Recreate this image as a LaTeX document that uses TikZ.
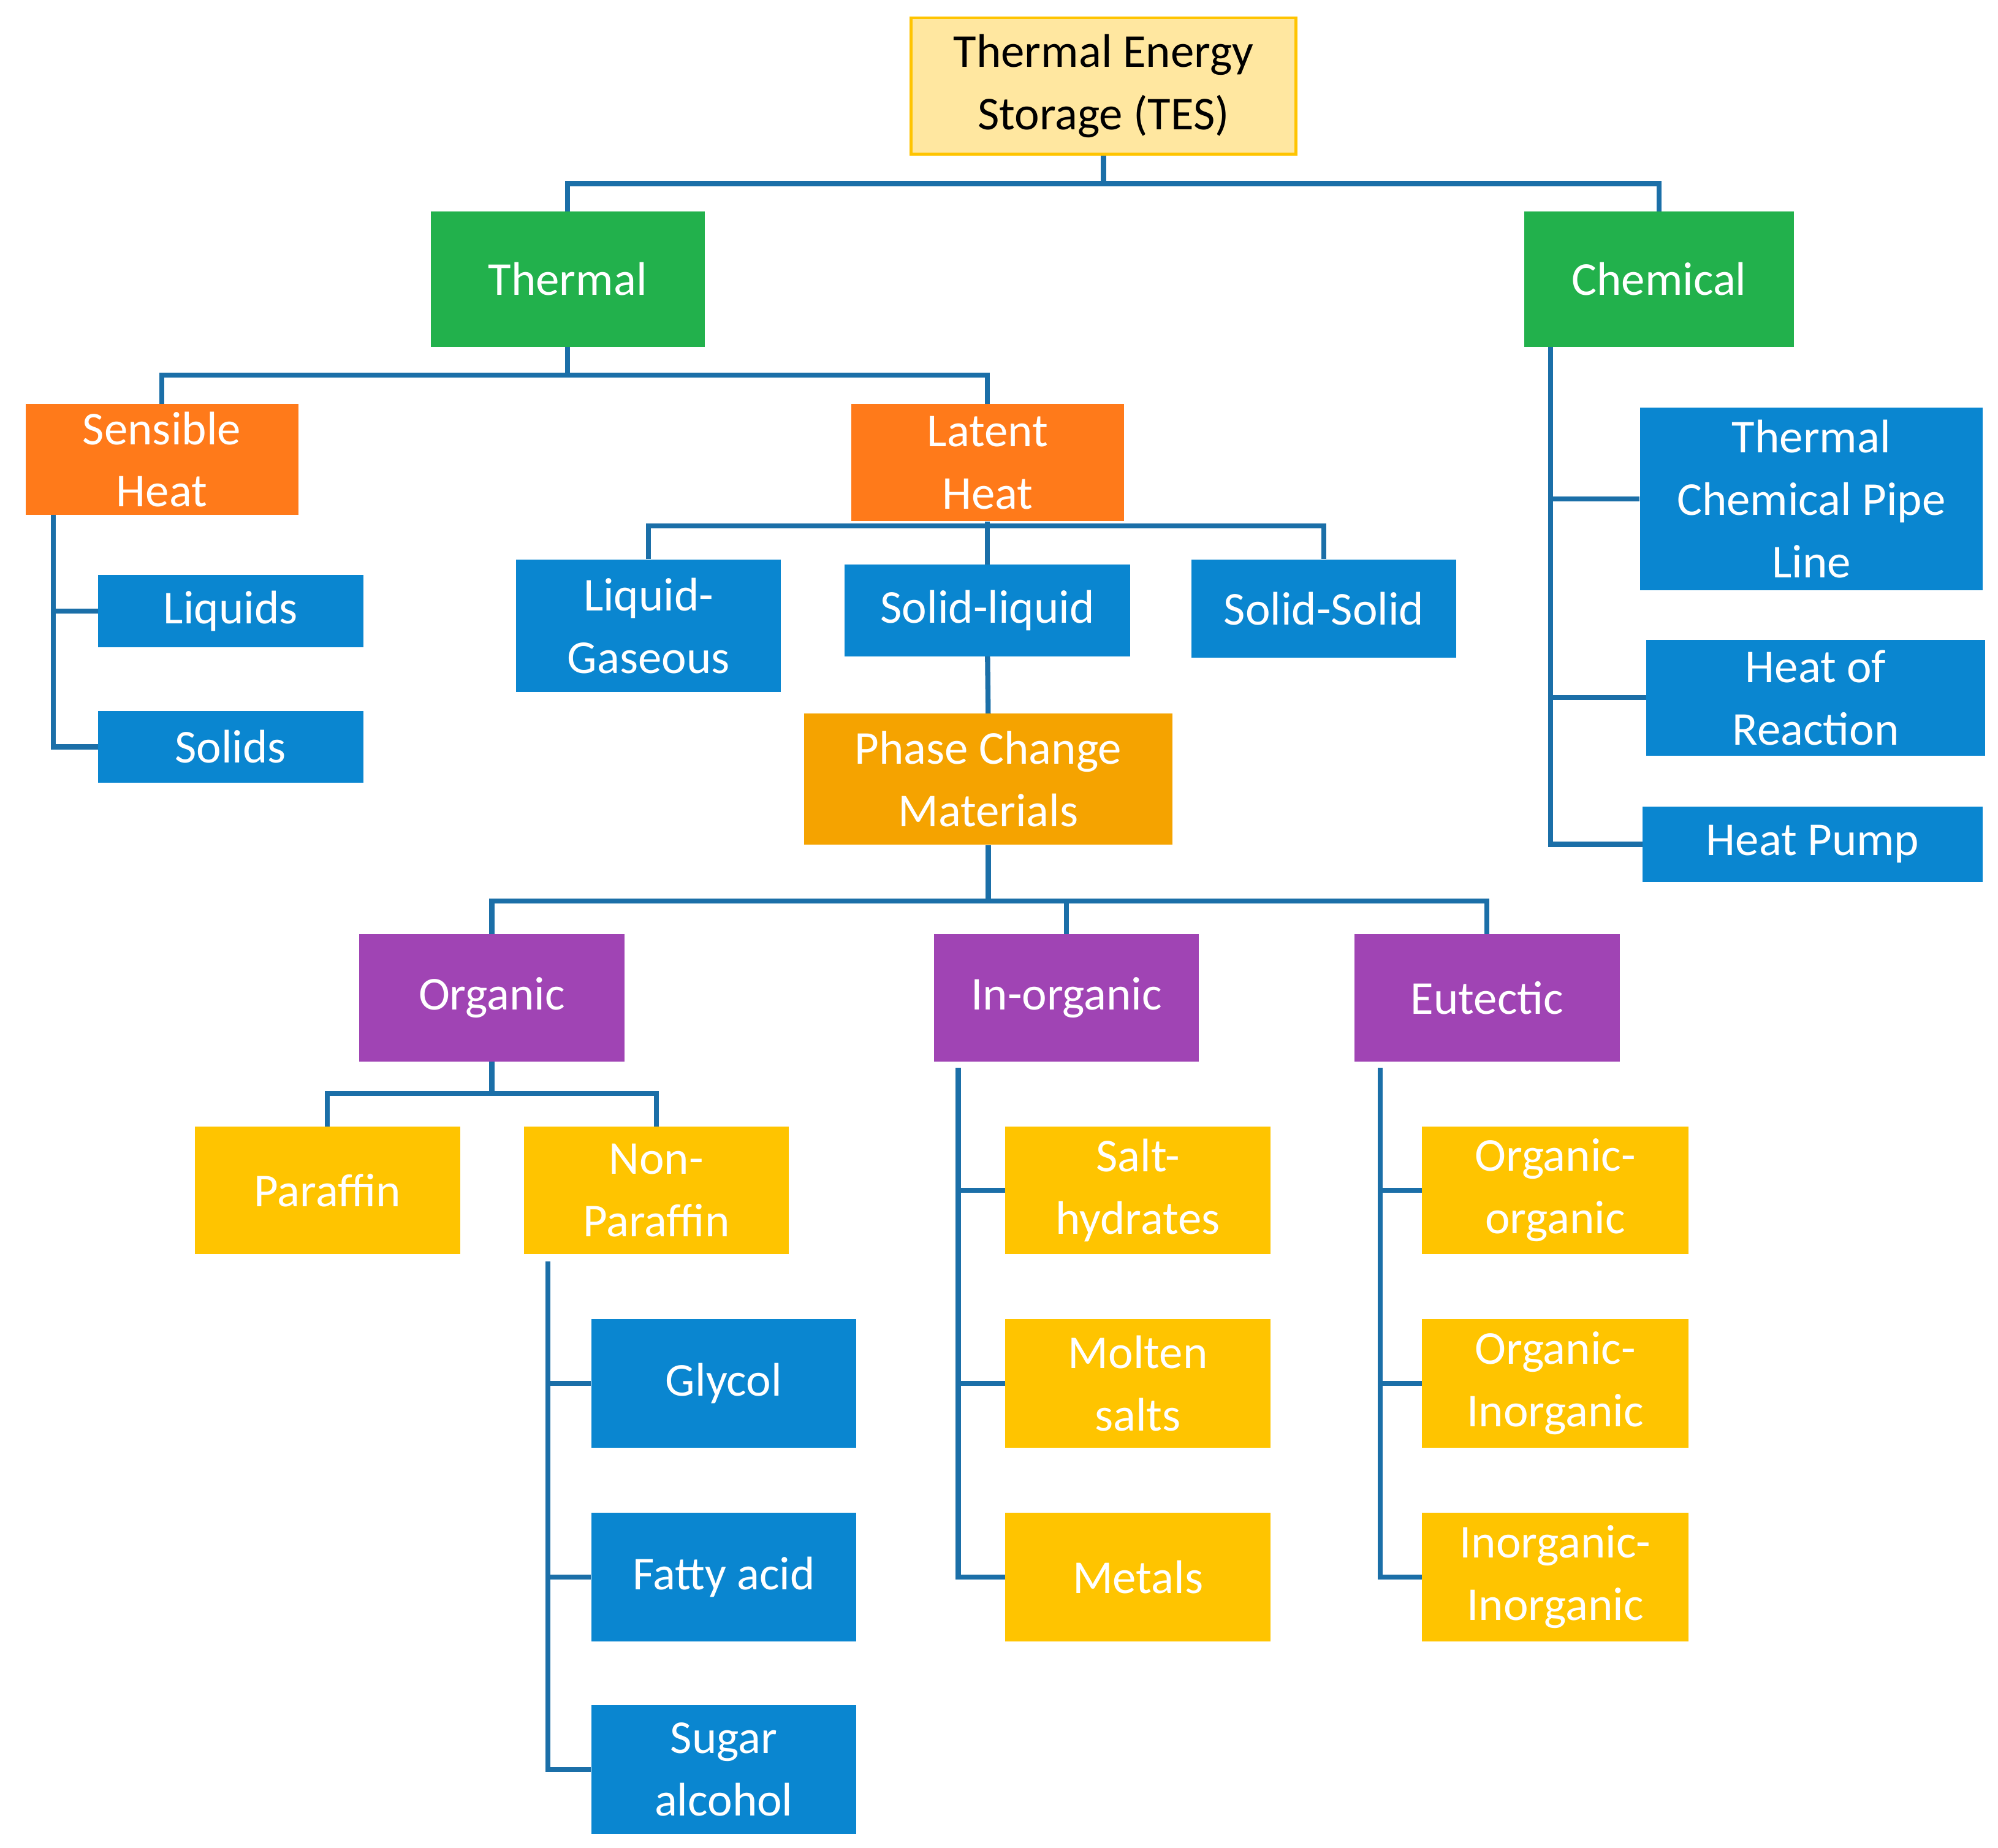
\documentclass[tikz,border=0pt]{standalone}
\usepackage{fontspec}
\setmainfont{Carlito}
\definecolor{cblue}{HTML}{0A86D0}
\definecolor{cline}{HTML}{1B6FA8}
\definecolor{cgreen}{HTML}{22B14C}
\definecolor{corange}{HTML}{FF7A1A}
\definecolor{cpcm}{HTML}{F5A300}
\definecolor{cpurple}{HTML}{A044B4}
\definecolor{cyellow}{HTML}{FFC400}
\definecolor{ctes}{HTML}{FFE7A0}
\newcommand\bx[7]{\node[box,#6, minimum width={(#4-#2)*1pt}, minimum height={(#5-#3)*1pt}] (#1) at ({(#2+#4)/2},{-(#3+#5)/2}) {#7};}
\begin{document}
\begin{tikzpicture}[x=1pt,y=1pt,
 box/.style={inner sep=0pt, align=center, text=white, font=\fontsize{37}{49}\selectfont},
 bl/.style={fill=cblue}, gr/.style={fill=cgreen}, og/.style={fill=corange},
 pc/.style={fill=cpcm}, pu/.style={fill=cpurple}, ye/.style={fill=cyellow},
 tes/.style={fill=ctes, draw=cyellow, line width=2pt, text=black},
 conn/.style={draw=cline, line width=4pt}]
\useasboundingbox (0,0) rectangle (1568,-1450);
\bx{tes}{715}{14}{1017}{121}{tes}{Thermal Energy\\Storage (TES)}
\bx{thermal}{338}{166}{553}{272}{gr}{Thermal}
\bx{chemical}{1196}{166}{1408}{272}{gr}{Chemical}
\bx{sensible}{20}{317}{234}{404}{og}{Sensible\\Heat}
\bx{latent}{668}{317}{882}{409}{og}{Latent\\Heat}
\bx{liquids}{77}{451}{285}{508}{bl}{Liquids}
\bx{solids}{77}{558}{285}{614}{bl}{Solids}
\bx{lg}{405}{439}{613}{543}{bl}{Liquid-\\Gaseous}
\bx{sl}{663}{443}{887}{515}{bl}{Solid-liquid}
\bx{ss}{935}{439}{1143}{516}{bl}{Solid-Solid}
\bx{pcm}{631}{560}{920}{663}{pc}{Phase Change\\Materials}
\bx{organic}{282}{733}{490}{833}{pu}{Organic}
\bx{inorganic}{733}{733}{941}{833}{pu}{In-organic}
\bx{eutectic}{1063}{733}{1271}{833}{pu}{Eutectic}
\bx{paraffin}{153}{884}{361}{984}{ye}{Paraffin}
\bx{nonpar}{411}{884}{619}{984}{ye}{Non-\\Paraffin}
\bx{glycol}{464}{1035}{672}{1136}{bl}{Glycol}
\bx{fatty}{464}{1187}{672}{1288}{bl}{Fatty acid}
\bx{sugar}{464}{1338}{672}{1439}{bl}{Sugar\\alcohol}
\bx{salt}{789}{884}{997}{984}{ye}{Salt-\\hydrates}
\bx{molten}{789}{1035}{997}{1136}{ye}{Molten\\salts}
\bx{metals}{789}{1187}{997}{1288}{ye}{Metals}
\bx{oo}{1116}{884}{1325}{984}{ye}{Organic-\\organic}
\bx{oi}{1116}{1035}{1325}{1136}{ye}{Organic-\\Inorganic}
\bx{ii}{1116}{1187}{1325}{1288}{ye}{Inorganic-\\Inorganic}
\bx{tcp}{1287}{320}{1556}{463}{bl}{Thermal\\Chemical Pipe\\Line}
\bx{hor}{1292}{502}{1558}{593}{bl}{Heat of\\Reaction}
\bx{hp}{1289}{633}{1556}{692}{bl}{Heat Pump}
\coordinate (sb) at (42,-404);
\coordinate (cb) at (1217,-272);
\coordinate (nb) at (430,-990);
\coordinate (ib) at (752,-838);
\coordinate (eb) at (1083,-838);
\begin{scope}[conn]
\draw (tes.south) -- ++(0,-22) -| (thermal.north);
\draw (tes.south) -- ++(0,-22) -| (chemical.north);
\draw (thermal.south) -- ++(0,-22) -| (sensible.north);
\draw (thermal.south) -- ++(0,-22) -| (latent.north);
\draw (latent.south) -- (sl.north);
\draw (lg.north) -- ++(0,26) -| (ss.north);
\draw (sb) |- (liquids.west);
\draw (sb) |- (solids.west);
\draw (sl.south) -- (pcm.north);
\draw (pcm.south) -- ++(0,-44) -| (organic.north);
\draw (pcm.south) -- ++(0,-44) -| (inorganic.north);
\draw (pcm.south) -- ++(0,-44) -| (eutectic.north);
\draw (organic.south) -- ++(0,-25) -| (paraffin.north);
\draw (organic.south) -- ++(0,-25) -| (nonpar.north);
\draw (nb) |- (glycol.west);
\draw (nb) |- (fatty.west);
\draw (nb) |- (sugar.west);
\draw (ib) |- (salt.west);
\draw (ib) |- (molten.west);
\draw (ib) |- (metals.west);
\draw (eb) |- (oo.west);
\draw (eb) |- (oi.west);
\draw (eb) |- (ii.west);
\draw (cb) |- (tcp.west);
\draw (cb) |- (hor.west);
\draw (cb) |- (hp.west);
\end{scope}
\end{tikzpicture}
\end{document}
